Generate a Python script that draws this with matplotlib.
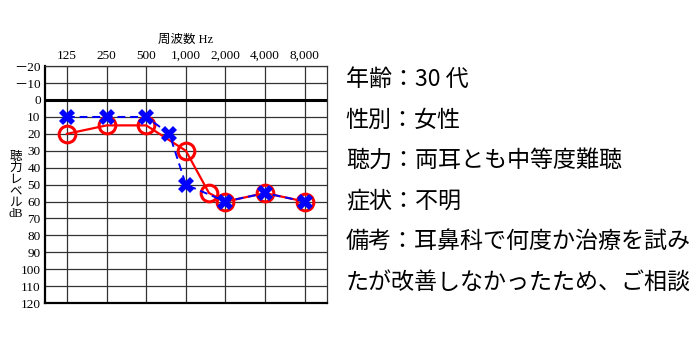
import numpy as np
import matplotlib
matplotlib.use("Agg")
import matplotlib.pyplot as plt

plt.rcParams['font.family'] = ['Liberation Serif', 'Noto Sans CJK JP']

# audiogram data (frequency in Hz, hearing level in dB)
freq_labels = ["125", "250", "500", "1,000", "2,000", "4,000", "8,000"]
freq_ticks = [125, 250, 500, 1000, 2000, 4000, 8000]
right_freq = [125, 250, 500, 1000, 1500, 2000, 4000, 8000]
right_db = [20, 15, 15, 30, 55, 60, 55, 60]
left_freq = [125, 250, 500, 750, 1000, 2000, 4000, 8000]
left_db = [10, 10, 10, 20, 50, 60, 55, 60]
db_ticks = list(range(-20, 130, 10))
db_labels = ["－20", "－10"] + [str(v) for v in db_ticks[2:]]

info_lines = [
    "年齢：30 代",
    "性別：女性",
    "聴力：両耳とも中等度難聴",
    "症状：不明",
    "備考：耳鼻科で何度か治療を試み",
    "たが改善しなかったため、ご相談",
]


def oct_pos(f):
    return np.log2(np.asarray(f) / 125.0)


fig = plt.figure(figsize=(7, 3.5), dpi=100)
ax = fig.add_axes([0.064, 0.134, 0.403, 0.677])

# grid
for v in db_ticks:
    ax.axhline(v, color="#333333", lw=0.9, zorder=1)
ax.axhline(0, color="black", lw=2.2, zorder=2)
for x in oct_pos(freq_ticks):
    ax.axvline(x, color="#333333", lw=0.9, zorder=1)

ax.plot(oct_pos(right_freq), right_db, color="red", lw=1.6, marker="o",
        markersize=12, markerfacecolor="none", markeredgewidth=2.2, zorder=3)
ax.plot(oct_pos(left_freq), left_db, color="blue", lw=1.4, ls=(0, (4, 2.5)),
        marker="X", markersize=11, markeredgewidth=0, zorder=4)

ax.set_xlim(-0.56, 6.56)
ax.set_ylim(120, -20)
ax.set_yticks(db_ticks)
ax.set_yticklabels(db_labels, fontsize=9.5)
ax.set_xticks(oct_pos(freq_ticks))
ax.set_xticklabels(freq_labels, fontsize=9.5)
ax.xaxis.tick_top()
ax.tick_params(length=0, pad=3)
ax.set_xlabel("周波数 Hz", fontsize=9, labelpad=5)
ax.xaxis.set_label_position("top")

for side in ["left", "bottom"]:
    ax.spines[side].set_linewidth(1.6)
    ax.spines[side].set_color("black")
for side in ["top", "right"]:
    ax.spines[side].set_linewidth(0.9)
    ax.spines[side].set_color("#333333")

fig.text(0.022, 0.47, "聴\n力\nレ\nベ\nル\ndB", fontsize=9, ha="center",
         va="center", linespacing=0.95)

for i, line in enumerate(info_lines):
    fig.text(0.494, 0.772 - i * 0.1155, line, fontsize=16.6, va="center",
             ha="left", family=["Noto Sans CJK JP", "DejaVu Sans"])

fig.savefig("out.png", dpi=100, facecolor="white")
